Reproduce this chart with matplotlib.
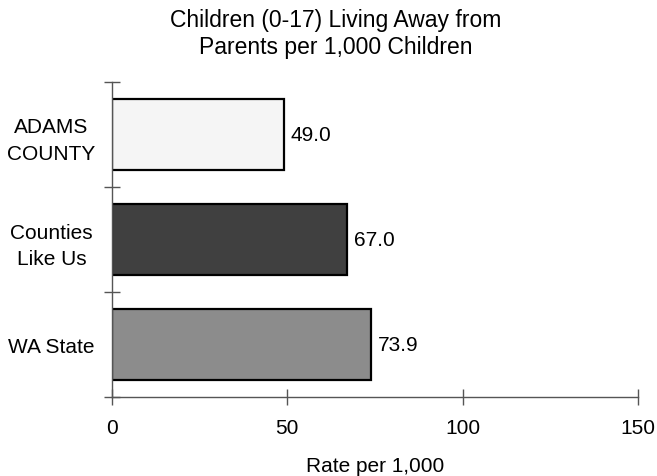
import numpy as np
from matplotlib import pyplot as plt
from matplotlib.ticker import FixedLocator

categories = ['ADAMS\nCOUNTY', 'Counties\nLike Us', 'WA State']
values = [49.0, 67.0, 73.9]
colors = ['#f5f5f5', '#404040', '#8c8c8c']
x_ticks = [0, 50, 100, 150]

plt.rcParams['font.family'] = ['Liberation Sans', 'DejaVu Sans']

fig = plt.figure(figsize=(6.57, 4.77), dpi=100)
ax = fig.add_axes([0.1705, 0.1656, 0.8005, 0.6604])

pos = np.arange(len(categories))
ax.barh(pos, values, height=0.667, color=colors, edgecolor='black', linewidth=1.6)

# rótulos de valor à direita de cada barra
for p, v in zip(pos, values):
    ax.text(v + 2.0, p, '{:.1f}'.format(v), va='center', ha='left', fontsize=15)

ax.set_xlim(0, 150)
ax.set_ylim(len(categories) - 0.5, -0.5)
ax.set_xticks(x_ticks)
ax.set_yticks(pos)
ax.set_yticklabels(categories, fontsize=15, linespacing=1.5, ha='center')
ax.yaxis.set_minor_locator(FixedLocator(np.arange(-0.5, len(categories), 1.0)))
ax.tick_params(axis='y', which='major', length=0, pad=43.5)
ax.tick_params(axis='y', which='minor', length=12, direction='inout', color='#555555', width=1)
ax.tick_params(axis='x', length=12, direction='inout', color='#555555', width=1, labelsize=15, pad=9)

for s in ['top', 'right']:
    ax.spines[s].set_visible(False)
for s in ['left', 'bottom']:
    ax.spines[s].set_color('#555555')
    ax.spines[s].set_linewidth(1)

ax.set_xlabel('Rate per 1,000', fontsize=15, labelpad=14)
fig.suptitle('Children (0-17) Living Away from\nParents per 1,000 Children',
             x=0.511, y=0.981, va='top', fontsize=16.5, linespacing=1.2)

fig.savefig('out.png', dpi=100)
